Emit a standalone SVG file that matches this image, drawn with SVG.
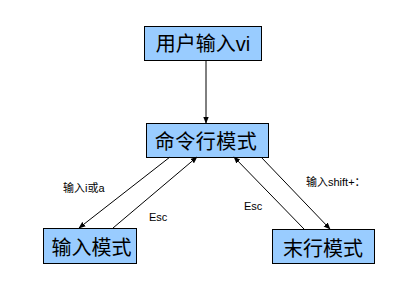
<svg xmlns="http://www.w3.org/2000/svg" width="419" height="293" viewBox="0 0 419 293">
<defs>
<marker id="ah" viewBox="0 0 10 10" refX="9" refY="5" markerWidth="7" markerHeight="7" orient="auto" markerUnits="userSpaceOnUse">
<path d="M0,1 L10,5 L0,9 Z" fill="#000"/>
</marker>
<style>
.box{fill:#99CCFF;stroke:#000;stroke-width:1}
.t{font-family:"Liberation Sans","Noto Sans CJK SC",sans-serif;font-size:20px;fill:#000;text-anchor:middle}
.l{font-family:"Liberation Sans","Noto Sans CJK SC",sans-serif;font-size:11px;fill:#000}
.c{stroke:#000;stroke-width:1;fill:none;marker-end:url(#ah)}
</style>
</defs>
<rect width="419" height="293" fill="#fff"/>
<g id="n1"><rect class="box" x="144.5" y="26.5" width="117" height="34"/><text class="t" x="203" y="51">用户输入vi</text></g>
<g id="n2"><rect class="box" x="146.5" y="123.5" width="122" height="34"/><text class="t" x="206" y="149" letter-spacing="0.5">命令行模式</text></g>
<g id="n3"><rect class="box" x="43.5" y="228.5" width="93" height="35"/><text class="t" x="91.5" y="255">输入模式</text></g>
<g id="n4"><rect class="box" x="272.5" y="229.5" width="102" height="34"/><text class="t" x="323" y="256">末行模式</text></g>
<g id="connectors">
<line class="c" x1="206" y1="61" x2="206" y2="123"/>
<line class="c" x1="170" y1="157" x2="79" y2="228"/>
<line class="c" x1="113" y1="228" x2="197" y2="157"/>
<line class="c" x1="304" y1="229" x2="234" y2="157"/>
<line class="c" x1="261" y1="157" x2="330" y2="229"/>
<text class="l" x="63" y="192">输入i或a</text>
<text class="l" x="149" y="221">Esc</text>
<text class="l" x="244" y="210">Esc</text>
<text class="l" x="306" y="186">输入shift+：</text>
</g>
</svg>
